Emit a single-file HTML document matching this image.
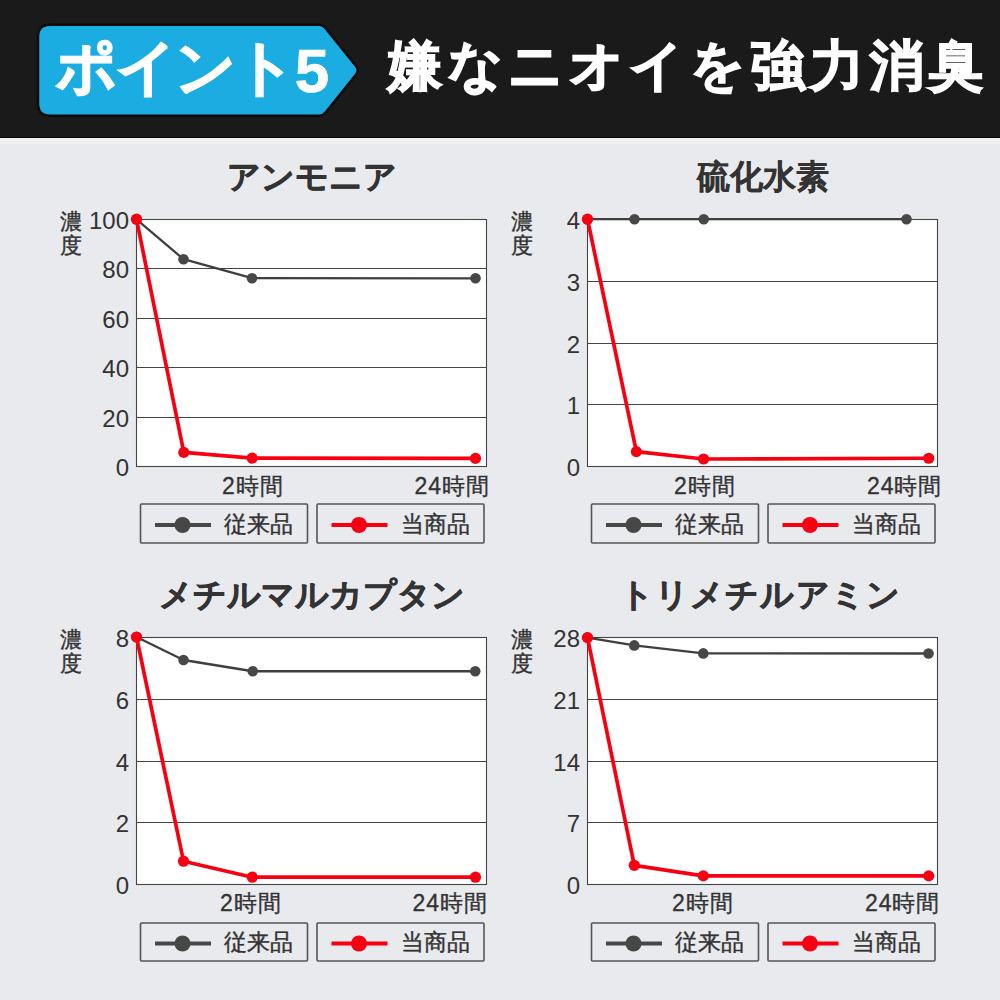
<!DOCTYPE html>
<html lang="ja"><head><meta charset="utf-8"><title>ポイント5 嫌なニオイを強力消臭</title>
<style>
html,body{margin:0;padding:0;}
body{width:1000px;height:1000px;position:relative;overflow:hidden;background:#e9eaee;font-family:"Liberation Sans", sans-serif;}
svg{position:absolute;left:0;top:0;}
.t{position:absolute;white-space:nowrap;}
</style></head><body>
<svg width="1000" height="1000" viewBox="0 0 1000 1000">
<rect x="0" y="0" width="1000" height="137" fill="#1a1a1a"/>
<rect x="0" y="137" width="1000" height="1.2" fill="#060606"/>
<rect x="0" y="138" width="1000" height="6" fill="#eef0f2"/>
<path d="M50,24.7 H319 Q323,24.7 326,28.7 L356,66 Q359.5,70.3 356,74.6 L326,112 Q323,115.8 319,115.8 H50 Q38,115.8 38,103.8 V36.7 Q38,24.7 50,24.7 Z" fill="#1badE1" stroke="#0b0b0b" stroke-width="2.5"/>
<rect x="136.5" y="219.5" width="350.0" height="247.0" fill="#ffffff" stroke="#444444" stroke-width="1.1"/>
<line x1="136.5" y1="268.50" x2="486.5" y2="268.50" stroke="#444444" stroke-width="1.1"/>
<line x1="136.5" y1="318.50" x2="486.5" y2="318.50" stroke="#444444" stroke-width="1.1"/>
<line x1="136.5" y1="367.50" x2="486.5" y2="367.50" stroke="#444444" stroke-width="1.1"/>
<line x1="136.5" y1="417.50" x2="486.5" y2="417.50" stroke="#444444" stroke-width="1.1"/>
<polyline points="136.50,219.30 183.50,259.20 252.00,278.20 475.50,278.30" fill="none" stroke="#3f3f3f" stroke-width="2.3" stroke-linejoin="round"/>
<circle cx="136.50" cy="219.30" r="5.3" fill="#474747"/>
<circle cx="183.50" cy="259.20" r="5.3" fill="#474747"/>
<circle cx="252.00" cy="278.20" r="5.3" fill="#474747"/>
<circle cx="475.50" cy="278.30" r="5.3" fill="#474747"/>
<polyline points="136.50,219.20 183.80,452.40 252.20,458.20 475.50,458.40" fill="none" stroke="#f60012" stroke-width="3.7" stroke-linejoin="round"/>
<circle cx="136.50" cy="219.20" r="5.6" fill="#f60012"/>
<circle cx="183.80" cy="452.40" r="5.6" fill="#f60012"/>
<circle cx="252.20" cy="458.20" r="5.6" fill="#f60012"/>
<circle cx="475.50" cy="458.40" r="5.6" fill="#f60012"/>
<rect x="140.5" y="504" width="167" height="39" fill="none" stroke="#555555" stroke-width="1.6" rx="1"/>
<line x1="155.0" y1="525.0" x2="211.0" y2="525.0" stroke="#474747" stroke-width="3.8"/>
<circle cx="182.5" cy="525.0" r="8" fill="#474747"/>
<rect x="317.0" y="504" width="167" height="39" fill="none" stroke="#555555" stroke-width="1.6" rx="1"/>
<line x1="331.5" y1="525.0" x2="387.5" y2="525.0" stroke="#f60012" stroke-width="3.8"/>
<circle cx="359.0" cy="525.0" r="8" fill="#f60012"/>
<rect x="587.5" y="219.5" width="350.0" height="247.0" fill="#ffffff" stroke="#444444" stroke-width="1.1"/>
<line x1="587.5" y1="281.50" x2="937.5" y2="281.50" stroke="#444444" stroke-width="1.1"/>
<line x1="587.5" y1="343.50" x2="937.5" y2="343.50" stroke="#444444" stroke-width="1.1"/>
<line x1="587.5" y1="404.50" x2="937.5" y2="404.50" stroke="#444444" stroke-width="1.1"/>
<polyline points="587.50,219.20 634.50,219.20 703.75,219.20 906.50,219.20" fill="none" stroke="#3f3f3f" stroke-width="2.3" stroke-linejoin="round"/>
<circle cx="587.50" cy="219.20" r="5.3" fill="#474747"/>
<circle cx="634.50" cy="219.20" r="5.3" fill="#474747"/>
<circle cx="703.75" cy="219.20" r="5.3" fill="#474747"/>
<circle cx="906.50" cy="219.20" r="5.3" fill="#474747"/>
<polyline points="587.50,219.20 636.40,451.60 703.60,459.00 928.75,458.25" fill="none" stroke="#f60012" stroke-width="3.7" stroke-linejoin="round"/>
<circle cx="587.50" cy="219.20" r="5.6" fill="#f60012"/>
<circle cx="636.40" cy="451.60" r="5.6" fill="#f60012"/>
<circle cx="703.60" cy="459.00" r="5.6" fill="#f60012"/>
<circle cx="928.75" cy="458.25" r="5.6" fill="#f60012"/>
<rect x="591.5" y="504" width="167" height="39" fill="none" stroke="#555555" stroke-width="1.6" rx="1"/>
<line x1="606.0" y1="525.0" x2="662.0" y2="525.0" stroke="#474747" stroke-width="3.8"/>
<circle cx="633.5" cy="525.0" r="8" fill="#474747"/>
<rect x="768.0" y="504" width="167" height="39" fill="none" stroke="#555555" stroke-width="1.6" rx="1"/>
<line x1="782.5" y1="525.0" x2="838.5" y2="525.0" stroke="#f60012" stroke-width="3.8"/>
<circle cx="810.0" cy="525.0" r="8" fill="#f60012"/>
<rect x="136.5" y="637.5" width="350.0" height="247.0" fill="#ffffff" stroke="#444444" stroke-width="1.1"/>
<line x1="136.5" y1="699.50" x2="486.5" y2="699.50" stroke="#444444" stroke-width="1.1"/>
<line x1="136.5" y1="761.50" x2="486.5" y2="761.50" stroke="#444444" stroke-width="1.1"/>
<line x1="136.5" y1="822.50" x2="486.5" y2="822.50" stroke="#444444" stroke-width="1.1"/>
<polyline points="136.50,637.00 183.50,660.00 252.75,671.25 475.25,671.25" fill="none" stroke="#3f3f3f" stroke-width="2.3" stroke-linejoin="round"/>
<circle cx="136.50" cy="637.00" r="5.3" fill="#474747"/>
<circle cx="183.50" cy="660.00" r="5.3" fill="#474747"/>
<circle cx="252.75" cy="671.25" r="5.3" fill="#474747"/>
<circle cx="475.25" cy="671.25" r="5.3" fill="#474747"/>
<polyline points="136.50,637.00 183.50,861.20 252.30,877.20 475.50,877.20" fill="none" stroke="#f60012" stroke-width="3.7" stroke-linejoin="round"/>
<circle cx="136.50" cy="637.00" r="5.6" fill="#f60012"/>
<circle cx="183.50" cy="861.20" r="5.6" fill="#f60012"/>
<circle cx="252.30" cy="877.20" r="5.6" fill="#f60012"/>
<circle cx="475.50" cy="877.20" r="5.6" fill="#f60012"/>
<rect x="140.5" y="923" width="167" height="38" fill="none" stroke="#555555" stroke-width="1.6" rx="1"/>
<line x1="155.0" y1="943.5" x2="211.0" y2="943.5" stroke="#474747" stroke-width="3.8"/>
<circle cx="182.5" cy="943.5" r="8" fill="#474747"/>
<rect x="317.0" y="923" width="167" height="38" fill="none" stroke="#555555" stroke-width="1.6" rx="1"/>
<line x1="331.5" y1="943.5" x2="387.5" y2="943.5" stroke="#f60012" stroke-width="3.8"/>
<circle cx="359.0" cy="943.5" r="8" fill="#f60012"/>
<rect x="587.5" y="637.5" width="350.0" height="247.0" fill="#ffffff" stroke="#444444" stroke-width="1.1"/>
<line x1="587.5" y1="699.50" x2="937.5" y2="699.50" stroke="#444444" stroke-width="1.1"/>
<line x1="587.5" y1="761.50" x2="937.5" y2="761.50" stroke="#444444" stroke-width="1.1"/>
<line x1="587.5" y1="822.50" x2="937.5" y2="822.50" stroke="#444444" stroke-width="1.1"/>
<polyline points="587.50,637.60 634.30,645.40 703.30,653.40 928.50,653.50" fill="none" stroke="#3f3f3f" stroke-width="2.3" stroke-linejoin="round"/>
<circle cx="587.50" cy="637.60" r="5.3" fill="#474747"/>
<circle cx="634.30" cy="645.40" r="5.3" fill="#474747"/>
<circle cx="703.30" cy="653.40" r="5.3" fill="#474747"/>
<circle cx="928.50" cy="653.50" r="5.3" fill="#474747"/>
<polyline points="587.50,637.60 634.30,865.30 703.30,875.90 928.70,875.90" fill="none" stroke="#f60012" stroke-width="3.7" stroke-linejoin="round"/>
<circle cx="587.50" cy="637.60" r="5.6" fill="#f60012"/>
<circle cx="634.30" cy="865.30" r="5.6" fill="#f60012"/>
<circle cx="703.30" cy="875.90" r="5.6" fill="#f60012"/>
<circle cx="928.70" cy="875.90" r="5.6" fill="#f60012"/>
<rect x="591.5" y="923" width="167" height="38" fill="none" stroke="#555555" stroke-width="1.6" rx="1"/>
<line x1="606.0" y1="943.5" x2="662.0" y2="943.5" stroke="#474747" stroke-width="3.8"/>
<circle cx="633.5" cy="943.5" r="8" fill="#474747"/>
<rect x="768.0" y="923" width="167" height="38" fill="none" stroke="#555555" stroke-width="1.6" rx="1"/>
<line x1="782.5" y1="943.5" x2="838.5" y2="943.5" stroke="#f60012" stroke-width="3.8"/>
<circle cx="810.0" cy="943.5" r="8" fill="#f60012"/>
</svg>
<div class="t" style="left:56px;top:36.5px;font-size:60px;line-height:60px;font-weight:bold;color:#ffffff;transform:translateX(0);letter-spacing:-1.3px;-webkit-text-stroke:1.6px #fff">ポイント<span style="font-size:62px;position:relative;top:4px;letter-spacing:-1px;-webkit-text-stroke:0.6px #fff">5</span></div>
<div class="t" style="left:388px;top:38px;font-size:54px;line-height:54px;font-weight:bold;color:#ffffff;transform:translateX(0);letter-spacing:5.6px;-webkit-text-stroke:1.6px #fff">嫌なニオイを強力消臭</div>
<div class="t" style="left:311.5px;top:160px;font-size:33px;line-height:33px;font-weight:bold;color:#333333;transform:translateX(-50%);letter-spacing:0px;-webkit-text-stroke:0.7px #333333">アンモニア</div>
<div class="t" style="left:60px;top:210px;font-size:22px;line-height:24px;color:#333333;width:24px;white-space:normal;-webkit-text-stroke:0.4px #333333">濃<br>度</div>
<div class="t" style="left:129px;top:209.0px;font-size:24px;line-height:24px;font-weight:normal;color:#333333;transform:translateX(-100%);">100</div>
<div class="t" style="left:129px;top:258.4px;font-size:24px;line-height:24px;font-weight:normal;color:#333333;transform:translateX(-100%);">80</div>
<div class="t" style="left:129px;top:307.8px;font-size:24px;line-height:24px;font-weight:normal;color:#333333;transform:translateX(-100%);">60</div>
<div class="t" style="left:129px;top:357.2px;font-size:24px;line-height:24px;font-weight:normal;color:#333333;transform:translateX(-100%);">40</div>
<div class="t" style="left:129px;top:406.6px;font-size:24px;line-height:24px;font-weight:normal;color:#333333;transform:translateX(-100%);">20</div>
<div class="t" style="left:129px;top:456.0px;font-size:24px;line-height:24px;font-weight:normal;color:#333333;transform:translateX(-100%);">0</div>
<div class="t" style="left:253px;top:475px;font-size:23px;line-height:23px;font-weight:normal;color:#333333;transform:translateX(-50%);letter-spacing:1px;-webkit-text-stroke:0.35px #333333">2時間</div>
<div class="t" style="left:490px;top:475px;font-size:23px;line-height:23px;font-weight:normal;color:#333333;transform:translateX(-100%);letter-spacing:1px;-webkit-text-stroke:0.35px #333333">24時間</div>
<div class="t" style="left:224.0px;top:513px;font-size:23px;line-height:23px;font-weight:normal;color:#333333;transform:translateX(0);-webkit-text-stroke:0.4px #333333">従来品</div>
<div class="t" style="left:400.5px;top:513px;font-size:23px;line-height:23px;font-weight:normal;color:#333333;transform:translateX(0);-webkit-text-stroke:0.4px #333333">当商品</div>
<div class="t" style="left:762.5px;top:160px;font-size:33px;line-height:33px;font-weight:bold;color:#333333;transform:translateX(-50%);letter-spacing:0px;-webkit-text-stroke:0.3px #333333">硫化水素</div>
<div class="t" style="left:511px;top:210px;font-size:22px;line-height:24px;color:#333333;width:24px;white-space:normal;-webkit-text-stroke:0.4px #333333">濃<br>度</div>
<div class="t" style="left:580px;top:209.0px;font-size:24px;line-height:24px;font-weight:normal;color:#333333;transform:translateX(-100%);">4</div>
<div class="t" style="left:580px;top:270.75px;font-size:24px;line-height:24px;font-weight:normal;color:#333333;transform:translateX(-100%);">3</div>
<div class="t" style="left:580px;top:332.5px;font-size:24px;line-height:24px;font-weight:normal;color:#333333;transform:translateX(-100%);">2</div>
<div class="t" style="left:580px;top:394.25px;font-size:24px;line-height:24px;font-weight:normal;color:#333333;transform:translateX(-100%);">1</div>
<div class="t" style="left:580px;top:456.0px;font-size:24px;line-height:24px;font-weight:normal;color:#333333;transform:translateX(-100%);">0</div>
<div class="t" style="left:705px;top:475px;font-size:23px;line-height:23px;font-weight:normal;color:#333333;transform:translateX(-50%);letter-spacing:1px;-webkit-text-stroke:0.35px #333333">2時間</div>
<div class="t" style="left:942.5px;top:475px;font-size:23px;line-height:23px;font-weight:normal;color:#333333;transform:translateX(-100%);letter-spacing:1px;-webkit-text-stroke:0.35px #333333">24時間</div>
<div class="t" style="left:675.0px;top:513px;font-size:23px;line-height:23px;font-weight:normal;color:#333333;transform:translateX(0);-webkit-text-stroke:0.4px #333333">従来品</div>
<div class="t" style="left:851.5px;top:513px;font-size:23px;line-height:23px;font-weight:normal;color:#333333;transform:translateX(0);-webkit-text-stroke:0.4px #333333">当商品</div>
<div class="t" style="left:311.5px;top:578px;font-size:33px;line-height:33px;font-weight:bold;color:#333333;transform:translateX(-50%);letter-spacing:0px;-webkit-text-stroke:0.7px #333333">メチルマルカプタン</div>
<div class="t" style="left:60px;top:628px;font-size:22px;line-height:24px;color:#333333;width:24px;white-space:normal;-webkit-text-stroke:0.4px #333333">濃<br>度</div>
<div class="t" style="left:129px;top:627.0px;font-size:24px;line-height:24px;font-weight:normal;color:#333333;transform:translateX(-100%);">8</div>
<div class="t" style="left:129px;top:688.75px;font-size:24px;line-height:24px;font-weight:normal;color:#333333;transform:translateX(-100%);">6</div>
<div class="t" style="left:129px;top:750.5px;font-size:24px;line-height:24px;font-weight:normal;color:#333333;transform:translateX(-100%);">4</div>
<div class="t" style="left:129px;top:812.25px;font-size:24px;line-height:24px;font-weight:normal;color:#333333;transform:translateX(-100%);">2</div>
<div class="t" style="left:129px;top:874.0px;font-size:24px;line-height:24px;font-weight:normal;color:#333333;transform:translateX(-100%);">0</div>
<div class="t" style="left:251px;top:891.5px;font-size:23px;line-height:23px;font-weight:normal;color:#333333;transform:translateX(-50%);letter-spacing:1px;-webkit-text-stroke:0.35px #333333">2時間</div>
<div class="t" style="left:488px;top:891.5px;font-size:23px;line-height:23px;font-weight:normal;color:#333333;transform:translateX(-100%);letter-spacing:1px;-webkit-text-stroke:0.35px #333333">24時間</div>
<div class="t" style="left:224.0px;top:931px;font-size:23px;line-height:23px;font-weight:normal;color:#333333;transform:translateX(0);-webkit-text-stroke:0.4px #333333">従来品</div>
<div class="t" style="left:400.5px;top:931px;font-size:23px;line-height:23px;font-weight:normal;color:#333333;transform:translateX(0);-webkit-text-stroke:0.4px #333333">当商品</div>
<div class="t" style="left:760.5px;top:578px;font-size:33px;line-height:33px;font-weight:bold;color:#333333;transform:translateX(-50%);letter-spacing:1.2px;-webkit-text-stroke:0.7px #333333">トリメチルアミン</div>
<div class="t" style="left:511px;top:628px;font-size:22px;line-height:24px;color:#333333;width:24px;white-space:normal;-webkit-text-stroke:0.4px #333333">濃<br>度</div>
<div class="t" style="left:580px;top:627.0px;font-size:24px;line-height:24px;font-weight:normal;color:#333333;transform:translateX(-100%);">28</div>
<div class="t" style="left:580px;top:688.75px;font-size:24px;line-height:24px;font-weight:normal;color:#333333;transform:translateX(-100%);">21</div>
<div class="t" style="left:580px;top:750.5px;font-size:24px;line-height:24px;font-weight:normal;color:#333333;transform:translateX(-100%);">14</div>
<div class="t" style="left:580px;top:812.25px;font-size:24px;line-height:24px;font-weight:normal;color:#333333;transform:translateX(-100%);">7</div>
<div class="t" style="left:580px;top:874.0px;font-size:24px;line-height:24px;font-weight:normal;color:#333333;transform:translateX(-100%);">0</div>
<div class="t" style="left:703px;top:891.5px;font-size:23px;line-height:23px;font-weight:normal;color:#333333;transform:translateX(-50%);letter-spacing:1px;-webkit-text-stroke:0.35px #333333">2時間</div>
<div class="t" style="left:940.5px;top:891.5px;font-size:23px;line-height:23px;font-weight:normal;color:#333333;transform:translateX(-100%);letter-spacing:1px;-webkit-text-stroke:0.35px #333333">24時間</div>
<div class="t" style="left:675.0px;top:931px;font-size:23px;line-height:23px;font-weight:normal;color:#333333;transform:translateX(0);-webkit-text-stroke:0.4px #333333">従来品</div>
<div class="t" style="left:851.5px;top:931px;font-size:23px;line-height:23px;font-weight:normal;color:#333333;transform:translateX(0);-webkit-text-stroke:0.4px #333333">当商品</div>
</body></html>
